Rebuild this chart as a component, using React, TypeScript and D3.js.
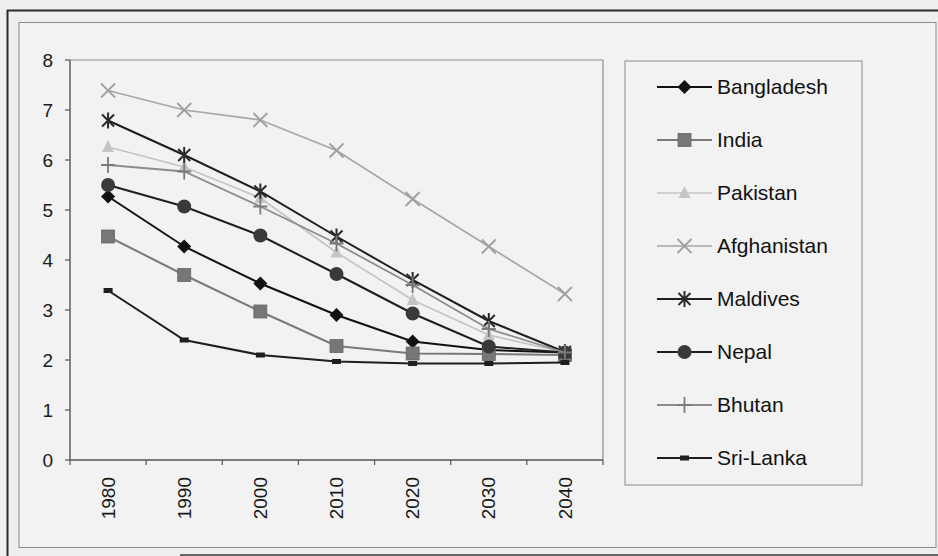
import React from "react";
import * as d3 from "d3";

const years = ["1980", "1990", "2000", "2010", "2020", "2030", "2040"];
const yTicks = [0, 1, 2, 3, 4, 5, 6, 7, 8];

const bangladesh = [5.27, 4.27, 3.53, 2.9, 2.37, 2.2, 2.15];
const india = [4.47, 3.7, 2.97, 2.28, 2.13, 2.12, 2.1];
const pakistan = [6.26, 5.86, 5.24, 4.15, 3.2, 2.5, 2.15];
const afghanistan = [7.39, 7.0, 6.8, 6.19, 5.22, 4.27, 3.32];
const maldives = [6.79, 6.1, 5.37, 4.47, 3.6, 2.78, 2.16];
const nepal = [5.5, 5.07, 4.49, 3.72, 2.93, 2.27, 2.15];
const bhutan = [5.9, 5.77, 5.07, 4.33, 3.5, 2.62, 2.15];
const sriLanka = [3.39, 2.4, 2.1, 1.97, 1.93, 1.93, 1.95];

type Series = {
  name: string;
  values: number[];
  line: string;
  width: number;
  marker: string;
  fill: string;
};

const series: Series[] = [
  { name: "Bangladesh", values: bangladesh, line: "#111", width: 2, marker: "diamond", fill: "#111" },
  { name: "India", values: india, line: "#7a7a7a", width: 2, marker: "square", fill: "#777" },
  { name: "Pakistan", values: pakistan, line: "#c4c4c4", width: 1.6, marker: "triangle", fill: "#c4c4c4" },
  { name: "Afghanistan", values: afghanistan, line: "#a6a6a6", width: 1.6, marker: "x", fill: "#a0a0a0" },
  { name: "Maldives", values: maldives, line: "#1e1e1e", width: 2, marker: "star", fill: "#2a2a2a" },
  { name: "Nepal", values: nepal, line: "#1e1e1e", width: 2, marker: "circle", fill: "#3a3a3a" },
  { name: "Bhutan", values: bhutan, line: "#8c8c8c", width: 1.8, marker: "plus", fill: "#7a7a7a" },
  { name: "Sri-Lanka", values: sriLanka, line: "#1e1e1e", width: 2, marker: "dash", fill: "#1e1e1e" },
];

const FONT = "'Liberation Sans', Arial, Helvetica, sans-serif";

function Marker({ kind, x, y, color }: { kind: string; x: number; y: number; color: string }) {
  switch (kind) {
    case "diamond":
      return <path d={`M${x},${y - 7}L${x + 7},${y}L${x},${y + 7}L${x - 7},${y}Z`} fill={color} />;
    case "square":
      return <rect x={x - 6.5} y={y - 6.5} width={13} height={13} fill={color} stroke="#666" strokeWidth={0.8} />;
    case "triangle":
      return <path d={`M${x},${y - 7}L${x + 6},${y + 5}L${x - 6},${y + 5}Z`} fill={color} />;
    case "x":
      return (
        <path d={`M${x - 7},${y - 7}L${x + 7},${y + 7}M${x - 7},${y + 7}L${x + 7},${y - 7}`} stroke={color} strokeWidth={1.8} />
      );
    case "star":
      return (
        <path
          d={`M${x - 6},${y - 6}L${x + 6},${y + 6}M${x - 6},${y + 6}L${x + 6},${y - 6}M${x},${y - 8}L${x},${y + 8}`}
          stroke={color}
          strokeWidth={2}
        />
      );
    case "circle":
      return <circle cx={x} cy={y} r={7} fill={color} />;
    case "plus":
      return <path d={`M${x - 7},${y}L${x + 7},${y}M${x},${y - 8}L${x},${y + 8}`} stroke={color} strokeWidth={1.8} />;
    case "dash":
      return <rect x={x - 4.5} y={y - 2.5} width={9} height={5} fill={color} />;
    default:
      return null;
  }
}

export default function App() {
  const W = 938;
  const H = 556;
  const left = 70;
  const right = 603;
  const top = 60;
  const bottom = 460;

  const x = d3.scaleBand<string>().domain(years).range([left, right]);
  const y = d3.scaleLinear().domain([0, 8]).range([bottom, top]);
  const cx = (yr: string) => (x(yr) as number) + x.bandwidth() / 2;

  const lineGen = d3
    .line<number>()
    .x((_, i) => cx(years[i]))
    .y((v) => y(v));

  const legendX = 625;
  const legendY = 61;
  const legendW = 237;
  const legendH = 424;
  const rowStep = 53;
  const firstRow = 87;

  const boundaries = [...years.map((yr) => x(yr) as number), right];

  return (
    <svg
      width={W}
      height={H}
      viewBox={`0 0 ${W} ${H}`}
      style={{ position: "absolute", left: 0, top: 0, background: "#efefef" }}
    >
      <rect x={0} y={0} width={W} height={H} fill="#eeeeee" />
      {/* outer page frame */}
      <line x1={7} y1={10.5} x2={W} y2={10.5} stroke="#2b2b2b" strokeWidth={2.2} />
      <line x1={7.5} y1={10} x2={7.5} y2={H} stroke="#2b2b2b" strokeWidth={2} />
      <line x1={180} y1={555} x2={W} y2={555} stroke="#3a3a3a" strokeWidth={1.5} />
      {/* chart area */}
      <rect x={19} y={22.5} width={917} height={525} fill="#f2f2f2" stroke="#8a8a8a" strokeWidth={1} />

      {/* plot area border */}
      <line x1={left} y1={top} x2={right} y2={top} stroke="#8c8c8c" strokeWidth={1.2} />
      <line x1={right} y1={top} x2={right} y2={bottom} stroke="#8c8c8c" strokeWidth={1.2} />

      {/* y axis */}
      <line x1={left} y1={top} x2={left} y2={bottom} stroke="#555" strokeWidth={1.4} />
      {yTicks.map((t) => (
        <g key={t}>
          <line x1={left - 5} y1={y(t)} x2={left} y2={y(t)} stroke="#555" strokeWidth={1.2} />
          <text
            x={53}
            y={y(t)}
            dy="0.35em"
            textAnchor="end"
            fontFamily={FONT}
            fontSize={19}
            fill="#1a1a1a"
          >
            {t}
          </text>
        </g>
      ))}

      {/* x axis */}
      <line x1={left} y1={bottom} x2={right} y2={bottom} stroke="#555" strokeWidth={1.4} />
      {boundaries.map((b, i) => (
        <line key={i} x1={b} y1={bottom} x2={b} y2={bottom + 5} stroke="#555" strokeWidth={1.2} />
      ))}
      {years.map((yr) => (
        <text
          key={yr}
          transform={`translate(${cx(yr)},${477}) rotate(-90)`}
          textAnchor="end"
          dy="0.35em"
          fontFamily={FONT}
          fontSize={19}
          fill="#1a1a1a"
        >
          {yr}
        </text>
      ))}

      {/* series */}
      {series.map((s) => (
        <g key={s.name}>
          <path d={lineGen(s.values) as string} fill="none" stroke={s.line} strokeWidth={s.width} />
          {s.values.map((v, i) => (
            <Marker key={i} kind={s.marker} x={cx(years[i])} y={y(v)} color={s.fill} />
          ))}
        </g>
      ))}

      {/* legend */}
      <rect x={legendX} y={legendY} width={legendW} height={legendH} fill="#f2f2f2" stroke="#8a8a8a" strokeWidth={1} />
      {series.map((s, i) => {
        const ry = firstRow + i * rowStep;
        return (
          <g key={s.name}>
            <line x1={657} y1={ry} x2={712} y2={ry} stroke={s.line} strokeWidth={s.width} />
            <Marker kind={s.marker} x={684.5} y={ry} color={s.fill} />
            <text x={717} y={ry} dy="0.35em" fontFamily={FONT} fontSize={21} fill="#111">
              {s.name}
            </text>
          </g>
        );
      })}
    </svg>
  );
}
